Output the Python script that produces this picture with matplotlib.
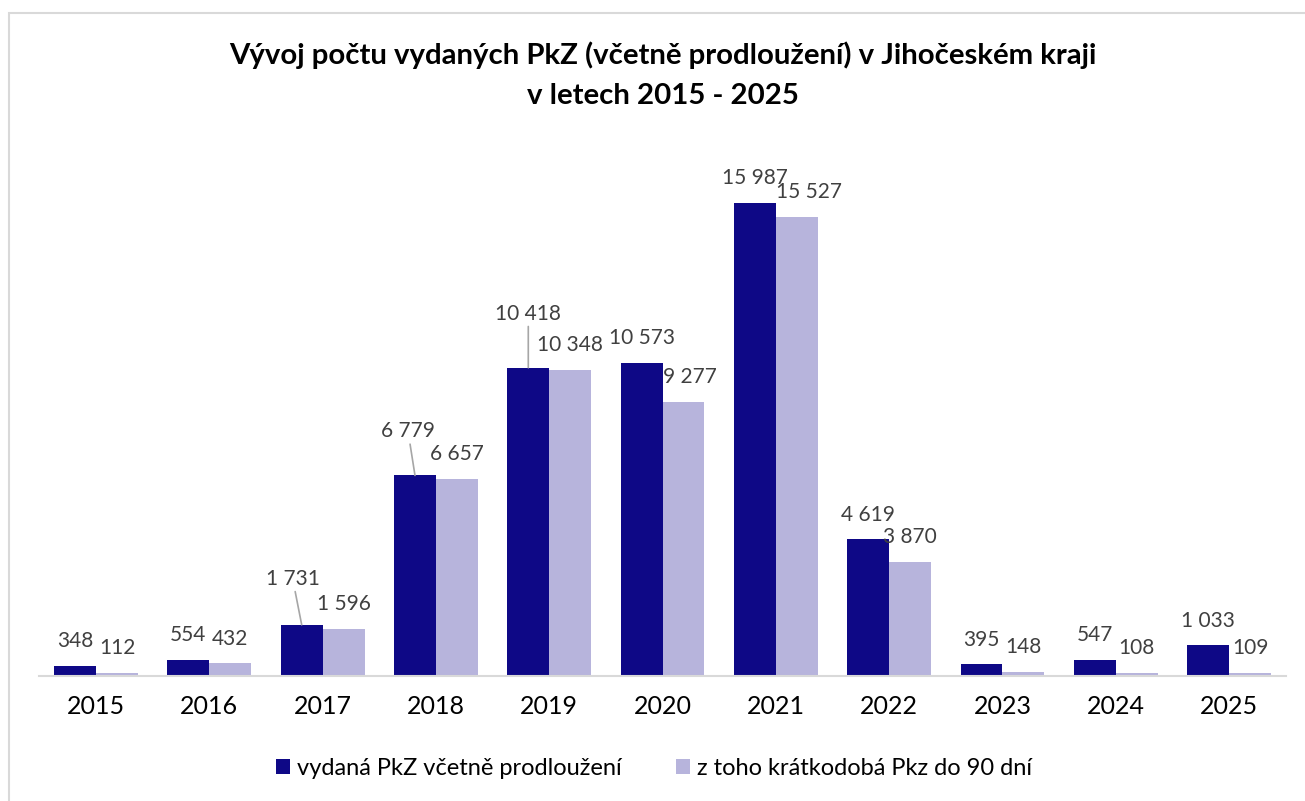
import matplotlib
matplotlib.use("Agg")
import matplotlib.pyplot as plt
from matplotlib.patches import Rectangle
import numpy as np

plt.rcParams['font.family'] = ['Lato', 'DejaVu Sans']

years = ['2015', '2016', '2017', '2018', '2019', '2020', '2021', '2022', '2023', '2024', '2025']
issued = [348, 554, 1731, 6779, 10418, 10573, 15987, 4619, 395, 547, 1033]
short_term = [112, 432, 1596, 6657, 10348, 9277, 15527, 3870, 148, 108, 109]
series_names = ['vydaná PkZ včetně prodloužení', 'z toho krátkodobá Pkz do 90 dní']

title = 'Vývoj počtu vydaných PkZ (včetně prodloužení) v Jihočeském kraji\nv letech 2015 - 2025'

dark = '#0E0886'
light = '#B7B4DC'
label_col = '#404040'

# labels Excel moved off the default spot: (series, year index) -> (dx, dy) in points
default_dy = 13.5
nudge = {(0, 2): (-6.5, 28.8), (0, 3): (-5.0, 27.4), (0, 4): (0.0, 34.6),
         (1, 5): (4.5, default_dy), (1, 6): (8.6, default_dy)}
leaders = {(0, 2), (0, 3), (0, 4)}


def fmt(v):
    return f'{v:,}'.replace(',', ' ')


fig = plt.figure(figsize=(13.05, 8.01), dpi=100)
fig.patches.append(Rectangle((9 / 1305, -0.1), 1.2, 1 - 13 / 801 + 0.1,
                             transform=fig.transFigure, fill=False,
                             edgecolor='#D9D9D9', linewidth=1.5))

ax = fig.add_axes([0.0302, 0.156, 0.955, 0.665])
x = np.arange(len(years))
w = 0.37
b1 = ax.bar(x - w / 2, issued, w, color=dark, label=series_names[0])
b2 = ax.bar(x + w / 2, short_term, w, color=light, label=series_names[1])

for s, bars in enumerate((b1, b2)):
    for i, r in enumerate(bars):
        dx, dy = nudge.get((s, i), (0.0, default_dy))
        xy = (r.get_x() + r.get_width() / 2, r.get_height())
        props = None
        if (s, i) in leaders:
            props = dict(arrowstyle='-', color='#A6A6A6', lw=1.2, shrinkA=0, shrinkB=0)
        ax.annotate(fmt(int(r.get_height())), xy=xy, xytext=(dx, dy),
                    textcoords='offset points', ha='center', va='baseline',
                    fontsize=15, color=label_col, arrowprops=props)

ax.set_xlim(-0.5, len(years) - 0.5)
ax.set_ylim(0, 18000)
ax.set_xticks(x)
ax.set_xticklabels(years, fontsize=18, color='black')
ax.tick_params(axis='x', length=0, pad=14)
ax.set_yticks([])
for side in ('top', 'left', 'right'):
    ax.spines[side].set_visible(False)
ax.spines['bottom'].set_color('#D9D9D9')
ax.spines['bottom'].set_linewidth(1.5)

fig.text(663 / 1305, 0.906, title, ha='center', va='center',
         fontsize=21.2, fontweight='bold', linespacing=1.66)

fig.legend(handles=[b1, b2], labels=series_names, loc='center',
           bbox_to_anchor=(654 / 1305, 0.041), ncol=2, frameon=False,
           fontsize=17, handlelength=0.6, handleheight=0.6,
           handletextpad=0.3, columnspacing=2.3)

fig.savefig('out.png', dpi=100)
